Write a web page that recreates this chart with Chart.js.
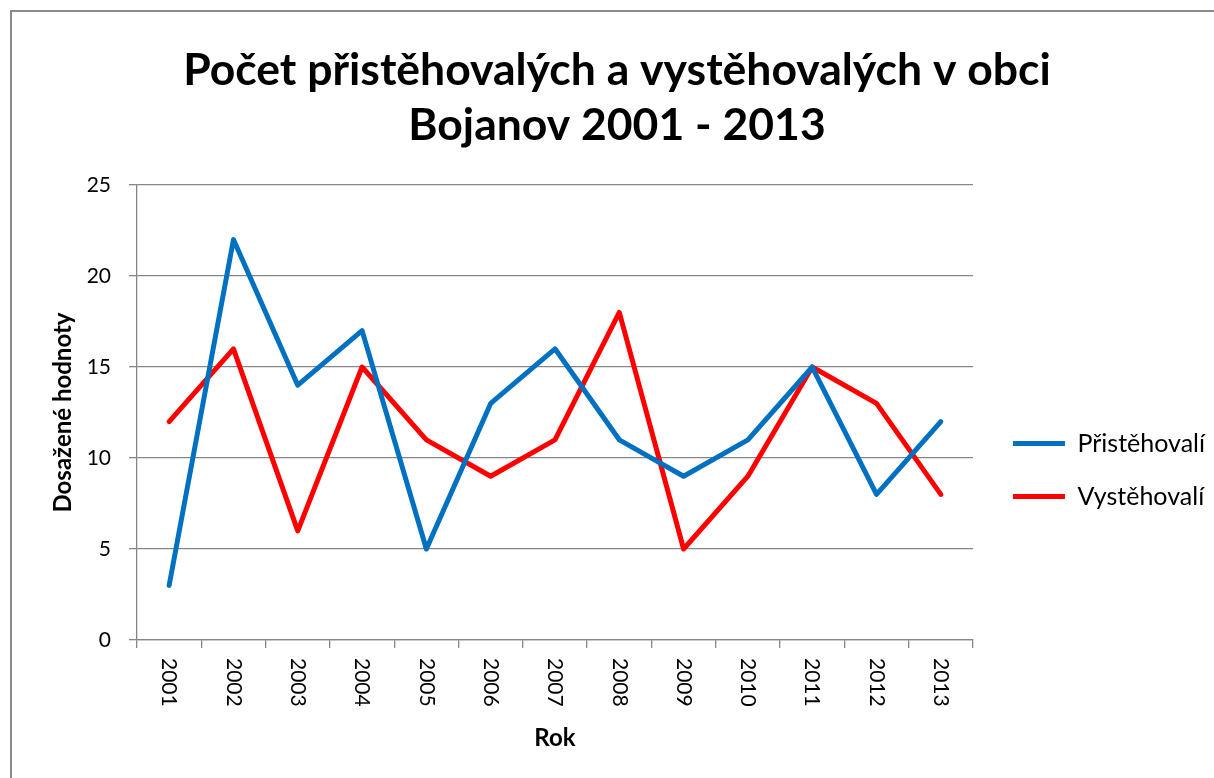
<!DOCTYPE html>
<html lang="cs">
<head>
  <meta charset="UTF-8" />
  <title>Počet přistěhovalých a vystěhovalých v obci Bojanov 2001 - 2013</title>
  <script src="https://cdn.jsdelivr.net/npm/chart.js"></script>
  <style>
    html, body { margin: 0; padding: 0; background: #fff; overflow: hidden; }
    .frame {
      position: absolute; left: 10px; top: 10px;
      width: 1400px; height: 1000px;
      border-left: 2px solid #8a8a8a; border-top: 2px solid #8a8a8a;
    }
    #chart { position: absolute; left: 0; top: 0; }
  </style>
</head>
<body>
  <div class="frame">
    <canvas id="chart" width="1203" height="916"></canvas>
  </div>

  <script>
    // data
    const years = ["2001", "2002", "2003", "2004", "2005", "2006", "2007", "2008", "2009", "2010", "2011", "2012", "2013"];
    const pristehovali = [3, 22, 14, 17, 5, 13, 16, 11, 9, 11, 15, 8, 12];
    const vystehovali = [12, 16, 6, 15, 11, 9, 11, 18, 5, 9, 15, 13, 8];
    const yMax = 25;
    const yStep = 5;

    const FONT = "Lato";
    const gridGray = "#868686";

    // x labels read top to bottom, like the original
    const xLabels = {
      id: "xLabels",
      afterDraw(chart) {
        const sc = chart.scales.x;
        const ctx = chart.ctx;
        ctx.save();
        ctx.fillStyle = "#000";
        ctx.font = "21px " + FONT;
        ctx.textAlign = "left";
        ctx.textBaseline = "middle";
        years.forEach((label, i) => {
          ctx.save();
          ctx.translate(sc.getPixelForTick(i), sc.top + 18);
          ctx.rotate(Math.PI / 2);
          ctx.fillText(label, 0, 0);
          ctx.restore();
        });
        ctx.restore();
      }
    };

    new Chart(document.getElementById("chart"), {
      type: "line",
      data: {
        labels: years,
        datasets: [{
          label: "Přistěhovalí",
          data: pristehovali,
          borderColor: "#0070c0",
          backgroundColor: "#0070c0",
          borderWidth: 5,
          borderCapStyle: "round",
          borderJoinStyle: "round",
          pointRadius: 0,
          tension: 0
        }, {
          label: "Vystěhovalí",
          data: vystehovali,
          borderColor: "#ff0000",
          backgroundColor: "#ff0000",
          borderWidth: 5,
          borderCapStyle: "round",
          borderJoinStyle: "round",
          pointRadius: 0,
          tension: 0
        }]
      },
      options: {
        responsive: false,
        animation: false,
        layout: { padding: { left: 7, right: 0, top: 0, bottom: 0 } },
        plugins: {
          title: {
            display: true,
            text: ["Počet přistěhovalých a vystěhovalých v obci", "Bojanov 2001 - 2013"],
            color: "#000",
            font: { family: FONT, size: 44.5, weight: "bold", lineHeight: 1.236 },
            padding: { top: 31, bottom: 32 }
          },
          legend: {
            position: "right",
            align: "center",
            maxWidth: 320,
            labels: {
              usePointStyle: true,
              pointStyle: "line",
              pointStyleWidth: 52,
              padding: 28,
              color: "#000",
              font: { family: FONT, size: 25 }
            }
          },
          tooltip: { enabled: false }
        },
        scales: {
          x: {
            offset: true,
            grid: { offset: true, drawOnChartArea: false, tickLength: 8, color: gridGray, lineWidth: 1.3 },
            border: { color: gridGray, width: 1.3 },
            ticks: { color: "rgba(0,0,0,0)", autoSkip: false, maxRotation: 0, font: { family: FONT, size: 21 } },
            title: {
              display: true, text: "Rok", color: "#000",
              font: { family: FONT, size: 24, weight: "bold" },
              padding: { top: 0, bottom: 175 }
            },
            afterFit(s) { s.height = 288; }
          },
          y: {
            min: 0, max: yMax,
            ticks: { stepSize: yStep, padding: 18, color: "#000", font: { family: FONT, size: 21 } },
            grid: { color: gridGray, lineWidth: 1.3, tickLength: 8 },
            border: { color: gridGray, width: 1.3 },
            title: {
              display: true, text: "Dosažené hodnoty", color: "#000",
              font: { family: FONT, size: 24, weight: "bold" },
              padding: { top: 29.5, bottom: 0 }
            },
            afterFit(s) { s.width = 118; }
          },
          gap: {
            position: "right",
            grid: { display: false },
            border: { display: false },
            ticks: { display: false },
            afterFit(s) { s.width = 12; }
          }
        }
      },
      plugins: [xLabels]
    });
  </script>
</body>
</html>
